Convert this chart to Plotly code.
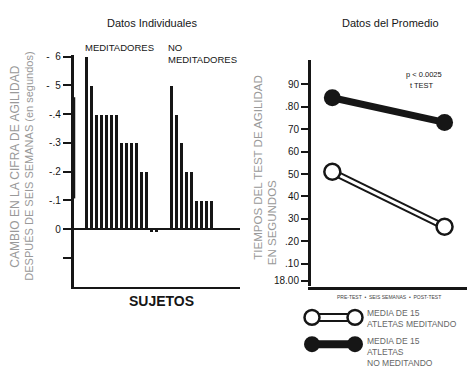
import plotly.graph_objects as go

W, H = 476, 370

# --- data -------------------------------------------------------------
# change in agility score after six weeks (seconds), one bar per subject
meditadores = [0.6, 0.5, 0.4, 0.4, 0.4, 0.4, 0.4, 0.3, 0.3, 0.3, 0.3, 0.2, 0.2, -0.01, -0.01]
no_meditadores = [0.5, 0.4, 0.3, 0.2, 0.2, 0.1, 0.1, 0.1, 0.1, 0, 0, 0, 0, 0, 0]
pos_meditadores = list(range(0, 15))
pos_no_meditadores = list(range(17, 32))

cambio_ticks = [0.6, 0.5, 0.4, 0.3, 0.2, 0.1, 0, -0.1]
cambio_labels = ["-  6", "-  5", "-.4", "-.3", "-.2", "-.1", "0", ""]

# mean agility test times (seconds): pre-test and post-test
fases = [0, 1]
media_meditando = [51, 26.5]
media_no_meditando = [84, 73]

tiempo_ticks = [2.5, 10, 20, 30, 40, 50, 60, 70, 80, 90]
tiempo_labels = ["18.00", ".10", ".20", "30", "40", "50", "60", "70", ".80", "90"]


def px(x):
    return x / W


def py(y):
    return 1 - y / H


INK = "#161616"
GREY = "#999999"
FONT = "Liberation Sans"

fig = go.Figure()

# individual bars
fig.add_trace(go.Bar(x=pos_meditadores, y=meditadores, width=0.55,
                     marker=dict(color=INK, line=dict(width=0)),
                     xaxis="x", yaxis="y", showlegend=False))
fig.add_trace(go.Bar(x=pos_no_meditadores, y=no_meditadores, width=0.55,
                     marker=dict(color=INK, line=dict(width=0)),
                     xaxis="x", yaxis="y", showlegend=False))

# group means
fig.add_trace(go.Scatter(x=fases, y=media_no_meditando, mode="lines+markers",
                         line=dict(color=INK, width=7),
                         marker=dict(size=17, color=INK),
                         xaxis="x2", yaxis="y2", showlegend=False))
fig.add_trace(go.Scatter(x=fases, y=media_meditando, mode="lines",
                         line=dict(color=INK, width=7),
                         xaxis="x2", yaxis="y2", showlegend=False))
fig.add_trace(go.Scatter(x=fases, y=media_meditando, mode="lines+markers",
                         line=dict(color="white", width=3),
                         marker=dict(size=16, color="white",
                                     line=dict(color=INK, width=2.5)),
                         xaxis="x2", yaxis="y2", showlegend=False))

fig.update_layout(
    width=W, height=H,
    margin=dict(l=0, r=0, t=0, b=0),
    paper_bgcolor="white", plot_bgcolor="white",
    font=dict(family=FONT, color=INK),
    xaxis=dict(domain=[px(73.5), px(240)], range=[-2.5, 30.8],
               showticklabels=False, ticks="", showgrid=False, zeroline=False,
               showline=True, linecolor=INK, linewidth=2),
    yaxis=dict(domain=[py(286), py(52)], range=[-0.2, 0.607],
               tickvals=cambio_ticks, ticktext=cambio_labels,
               ticks="outside", ticklen=8, tickwidth=1.5, tickcolor=INK,
               tickfont=dict(size=10, color=INK, family=FONT),
               showgrid=False, zeroline=True, zerolinecolor=INK, zerolinewidth=1.5,
               showline=True, linecolor=INK, linewidth=2.5),
    xaxis2=dict(domain=[px(311), px(467)], range=[-0.19, 1.2],
                showticklabels=False, ticks="", showgrid=False, zeroline=False,
                showline=True, linecolor=INK, linewidth=3),
    yaxis2=dict(domain=[py(285.6), py(57)], range=[0, 101], anchor="x2",
                tickvals=tiempo_ticks, ticktext=tiempo_labels,
                ticks="outside", ticklen=7, tickwidth=1.5, tickcolor=INK,
                tickfont=dict(size=10, color=INK, family=FONT),
                showgrid=False, zeroline=False,
                showline=True, linecolor=INK, linewidth=3),
    bargap=0,
)

ann = []


def text(x, y, s, size, color=INK, angle=0, xanchor="center", yanchor="middle",
         align="center", family=FONT):
    ann.append(dict(x=px(x), y=py(y), xref="paper", yref="paper", text=s,
                    showarrow=False, font=dict(size=size, color=color, family=family),
                    textangle=angle, xanchor=xanchor, yanchor=yanchor, align=align))


text(152, 20, "Datos Individuales", 11)
text(390, 20, "Datos del Promedio", 11)
text(83, 45, "MEDITADORES", 9.5, xanchor="left")
text(166, 45, "NO", 9.5, xanchor="left")
text(166, 57, "MEDITADORES", 9.5, xanchor="left")
text(161, 300, "<b>SUJETOS</b>", 14)

# rotated axis titles, one annotation per line
text(15, 165, "CAMBIO EN LA CIFRA DE AGILIDAD", 12, color=GREY, angle=-90)
text(29, 165, "DESPUÉS DE SEIS SEMANAS (en segundos)", 11, color=GREY, angle=-90)
text(258, 166, "TIEMPOS DEL TEST DE AGILIDAD", 11.5, color=GREY, angle=-90)
text(272, 222, "EN SEGUNDOS", 11.5, color=GREY, angle=-90)

text(424, 72, "p < 0.0025", 7.5)
text(422, 83, "t TEST", 7.5)
text(389, 296, "PRE-TEST  •  SEIS SEMANAS  •  POST-TEST", 5, color="#444")
text(365, 313, "MEDIA DE 15", 8.5, color="#666", xanchor="left")
text(365, 324, "ATLETAS MEDITANDO", 8.5, color="#666", xanchor="left")
text(365, 341, "MEDIA DE 15", 8.5, color="#666", xanchor="left")
text(365, 352, "ATLETAS", 8.5, color="#666", xanchor="left")
text(365, 363, "NO MEDITANDO", 8.5, color="#666", xanchor="left")

shapes = []


def rect(x0, y0, x1, y1, fill, line_w=0, line_c=INK):
    shapes.append(dict(type="rect", xref="paper", yref="paper",
                       x0=px(x0), x1=px(x1), y0=py(y1), y1=py(y0),
                       fillcolor=fill, line=dict(color=line_c, width=line_w)))


def circle(cx, cy, r, fill, line_w):
    shapes.append(dict(type="circle", xref="paper", yref="paper",
                       x0=px(cx - r), x1=px(cx + r), y0=py(cy + r), y1=py(cy - r),
                       fillcolor=fill, line=dict(color=INK, width=line_w)))


# thickened stretch of the left spine
shapes.append(dict(type="line", xref="paper", yref="paper",
                   x0=px(73.5), x1=px(73.5), y0=py(197), y1=py(95),
                   line=dict(color=INK, width=3.5)))

# legend: open dumbbell (meditating)
rect(316, 313.5, 351, 320.5, "white", 2)
circle(312, 317, 7.5, "white", 2.5)
circle(355, 317, 7.5, "white", 2.5)
# legend: filled dumbbell (not meditating)
rect(314, 340, 353, 348, INK, 0)
circle(312, 344, 8, INK, 0)
circle(355, 344, 8, INK, 0)

fig.update_layout(annotations=ann, shapes=shapes)

fig.write_html("out.html")
